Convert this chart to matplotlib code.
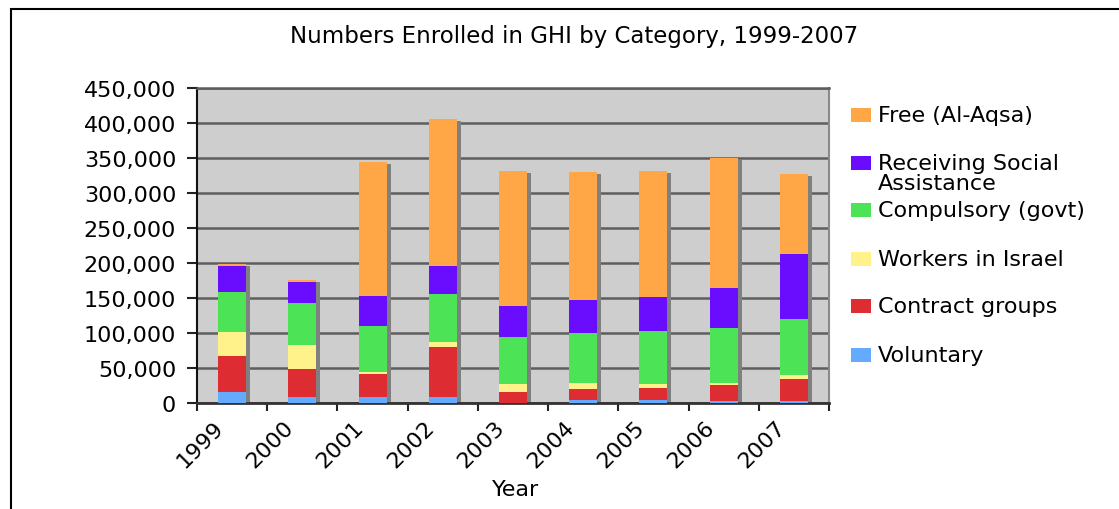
import matplotlib
matplotlib.use("Agg")
import matplotlib.pyplot as plt
import matplotlib.transforms as mtransforms
from matplotlib.patches import Rectangle
from matplotlib.ticker import FuncFormatter, FixedLocator
import numpy as np

# ---- data ----
years = ['1999', '2000', '2001', '2002', '2003', '2004', '2005', '2006', '2007']
voluntary = [15700, 8600, 8600, 8600, 300, 4300, 4300, 2900, 2900]
contract = [51300, 39900, 32800, 71300, 15400, 15700, 17100, 22800, 31300]
workers = [34300, 34300, 2800, 7100, 11400, 8500, 5700, 2800, 5800]
compulsory = [57100, 59900, 65700, 68500, 67100, 71400, 75600, 78500, 79900]
social = [37100, 30000, 42800, 40000, 44200, 47100, 48600, 57100, 92700]
free = [2900, 2800, 191200, 209800, 192700, 182600, 179800, 185500, 114200]

series_names = ['Voluntary', 'Contract groups', 'Workers in Israel',
                'Compulsory (govt)', 'Receiving Social\nAssistance', 'Free (Al-Aqsa)']
series_values = [voluntary, contract, workers, compulsory, social, free]
series_colors = ['#64AAFF', '#DD2D32', '#FFF28A', '#4CE356', '#6A0DFF', '#FFA647']

W, H = 1119, 510
FS = 16
fig = plt.figure(figsize=(W / 100, H / 100), dpi=100)
plt.rcParams['font.family'] = ['DejaVu Sans']

ax = fig.add_axes([197 / W, 1 - 404 / H, (829 - 197) / W, (404 - 88.7) / H])
ax.set_facecolor('#CECECE')

x = np.arange(len(years))
bw = 0.4

# shadow bars
totals = np.sum(np.array(series_values), axis=0)
shadow_tr = ax.transData + mtransforms.ScaledTranslation(4 / 100, -2 / 100, fig.dpi_scale_trans)
ax.bar(x, totals, width=bw, color='#808080', transform=shadow_tr, zorder=2, linewidth=0)

bottom = np.zeros(len(years))
for vals, col in zip(series_values, series_colors):
    ax.bar(x, vals, width=bw, bottom=bottom, color=col, linewidth=0, zorder=3)
    bottom = bottom + np.array(vals)

ax.set_xlim(-0.5, len(years) - 0.5)
ax.set_ylim(0, 450000)
ax.yaxis.set_major_locator(FixedLocator(np.arange(0, 450001, 50000)))
ax.yaxis.set_major_formatter(FuncFormatter(lambda v, p: f"{int(v):,}"))
ax.grid(axis='y', color='#5E5E5E', linewidth=1.8, zorder=1)
ax.set_axisbelow(True)

ax.set_xticks(x)
ax.set_xticklabels(years, rotation=45, ha='right', va='center', rotation_mode='anchor')
ax.set_xticks(np.arange(-0.5, len(years), 1.0), minor=True)
ax.tick_params(axis='x', which='major', length=0, labelsize=FS, pad=12)
ax.tick_params(axis='x', which='minor', length=6, width=1.5, color='#222222', direction='out')
ax.tick_params(axis='y', length=7, width=1.5, color='#222222', labelsize=FS, pad=8)
off = mtransforms.ScaledTranslation(-12 / 100, -4 / 100, fig.dpi_scale_trans)
for lab in ax.get_xticklabels():
    lab.set_transform(lab.get_transform() + off)

ax.spines['left'].set_color('#111111'); ax.spines['left'].set_linewidth(1.5)
ax.spines['bottom'].set_color('#333333'); ax.spines['bottom'].set_linewidth(2)
ax.spines['right'].set_color('#8A8A8A'); ax.spines['right'].set_linewidth(1.5)
ax.spines['top'].set_color('#5E5E5E'); ax.spines['top'].set_linewidth(1.8)

fig.text(516 / W, 1 - 490 / H, 'Year', ha='center', va='center', fontsize=FS)
fig.text(574 / W, 1 - 37 / H, 'Numbers Enrolled in GHI by Category, 1999-2007',
         ha='center', va='center', fontsize=16.5)

# legend (top to bottom: reversed stacking order)
leg_y = [116, 164, 211, 259.5, 307, 356]
for i, (name, col) in enumerate(zip(series_names[::-1], series_colors[::-1])):
    yc = leg_y[i]
    fig.patches.append(Rectangle((851 / W, 1 - (yc + 7) / H), 20 / W, 14 / H,
                                 transform=fig.transFigure, facecolor=col,
                                 edgecolor='none'))
    fig.text(878 / W, 1 - (yc - 10) / H, name, ha='left', va='top',
             fontsize=FS, linespacing=0.98)

# outer border
fig.patches.append(Rectangle((11 / W, -0.05), 1.2, 1 - 10 / H + 0.05,
                             transform=fig.transFigure, facecolor='none',
                             edgecolor='black', linewidth=1.5))

fig.savefig('out.png', dpi=100)
